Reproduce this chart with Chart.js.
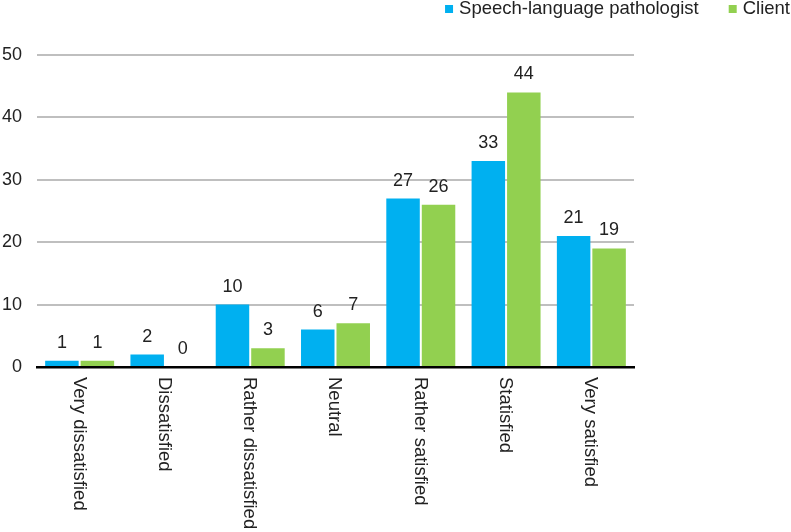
<!DOCTYPE html>
<html>
<head>
<meta charset="utf-8">
<script src="https://cdn.jsdelivr.net/npm/chart.js"></script>
<style>
  html, body { margin: 0; padding: 0; background: #fff; }
  #wrap { width: 791px; height: 532px; }
</style>
</head>
<body>
<div id="wrap"><canvas id="myChart"></canvas></div>
<script>
let categories = ['Very dissatisfied', 'Dissatisfied', 'Rather dissatisfied', 'Neutral',
  'Rather satisfied', 'Statisfied', 'Very satisfied'];
let seriesNames = ['Speech-language pathologist', 'Client'];
let slpValues = [1, 2, 10, 6, 27, 33, 21];
let clientValues = [1, 0, 3, 7, 26, 44, 19];
let yMin = 0, yMax = 50, yStep = 10;
let colorHex = ['#00B0F0', '#92D050'];

let fontFamily = '"Liberation Sans", Arial, sans-serif';
let textColor = '#222';

// value labels above each bar
let valueLabels = {
  id: 'valueLabels',
  afterDatasetsDraw(chart) {
    let ctx = chart.ctx;
    ctx.save();
    ctx.font = '18px ' + fontFamily;
    ctx.fillStyle = textColor;
    ctx.textAlign = 'center';
    ctx.textBaseline = 'alphabetic';
    chart.data.datasets.forEach((ds, i) => {
      chart.getDatasetMeta(i).data.forEach((bar, j) => {
        ctx.fillText(ds.data[j], bar.x, bar.y - 13);
      });
    });
    ctx.restore();
  }
};

// category labels turned 90deg clockwise
let xLabels = {
  id: 'xLabels',
  afterDraw(chart) {
    let ctx = chart.ctx;
    let scale = chart.scales.x;
    ctx.save();
    ctx.font = '18.5px ' + fontFamily;
    ctx.fillStyle = textColor;
    ctx.textAlign = 'left';
    ctx.textBaseline = 'middle';
    chart.data.labels.forEach((label, i) => {
      ctx.save();
      ctx.translate(scale.getPixelForTick(i) - 1, scale.top + 10);
      ctx.rotate(Math.PI / 2);
      ctx.fillText(label, 0, 0);
      ctx.restore();
    });
    ctx.restore();
  }
};

// legend at the top right corner
let topLegend = {
  id: 'topLegend',
  afterDraw(chart) {
    let ctx = chart.ctx;
    ctx.save();
    ctx.font = '18.5px ' + fontFamily;
    ctx.textBaseline = 'middle';
    ctx.textAlign = 'left';
    let x = 790;
    let y = 9;
    let items = chart.data.datasets.slice().reverse();
    items.forEach((ds) => {
      let w = ctx.measureText(ds.label).width;
      x -= w;
      ctx.fillStyle = textColor;
      ctx.fillText(ds.label, x, y);
      x -= 6;
      ctx.fillStyle = ds.backgroundColor;
      ctx.fillRect(x - 8, y - 4, 8, 8);
      x -= 8 + 30;
    });
    ctx.restore();
  }
};

let ctx = document.getElementById('myChart').getContext('2d');
let myChart = new Chart(ctx, {
  type: 'bar',
  data: {
    labels: categories,
    datasets: [{
      label: seriesNames[0],
      data: slpValues,
      backgroundColor: colorHex[0]
    }, {
      label: seriesNames[1],
      data: clientValues,
      backgroundColor: colorHex[1]
    }]
  },
  options: {
    responsive: true,
    maintainAspectRatio: false,
    animation: false,
    categoryPercentage: 0.832,
    barPercentage: 0.944,
    layout: { padding: { top: 55, left: 0, right: 0, bottom: 0 } },
    plugins: {
      legend: { display: false },
      tooltip: { enabled: false }
    },
    scales: {
      x: {
        grid: { display: false },
        border: { display: true, color: '#000', width: 2.5 },
        ticks: { display: false },
        afterFit: (s) => { s.height = 165; }
      },
      y: {
        min: yMin,
        max: yMax,
        ticks: {
          stepSize: yStep,
          padding: 15,
          color: textColor,
          font: { family: fontFamily, size: 18 }
        },
        grid: {
          drawTicks: false,
          lineWidth: 2,
          color: (c) => c.tick && c.tick.value === 0 ? 'rgba(0,0,0,0)' : '#BFBFBF'
        },
        border: { display: false },
        afterFit: (s) => { s.width = 37; }
      },
      y2: {
        position: 'right',
        grid: { display: false },
        border: { display: false },
        ticks: { display: false },
        afterFit: (s) => { s.width = 157; }
      }
    }
  },
  plugins: [valueLabels, xLabels, topLegend]
});
</script>
</body>
</html>
